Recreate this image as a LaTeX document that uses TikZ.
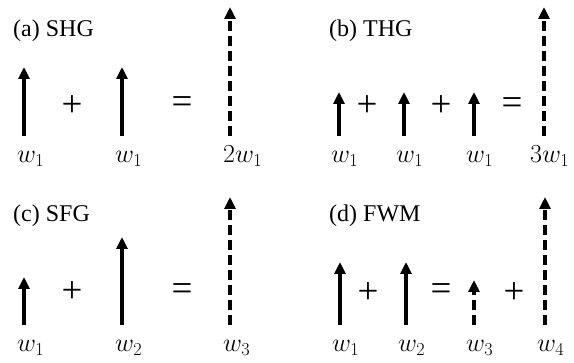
\RequirePackage{fix-cm}
\documentclass[tikz,border=0pt]{standalone}
\usepackage{fontspec}
\setmainfont{Liberation Serif}
\usetikzlibrary{arrows.meta}

\begin{document}
\begin{tikzpicture}[x=1pt, y=-1pt,
    % ---------- estilos ----------
    ttl/.style={font=\fontsize{24}{27}\selectfont, anchor=base west, inner sep=0pt},
    lbl/.style={font=\fontsize{26}{28}\selectfont, anchor=base west, inner sep=0pt},
    op/.style={font=\fontsize{37}{40}\selectfont, inner sep=0pt},
    vec/.style={-{Triangle[length=12pt, width=11pt]}, line width=3.2pt},
    dvec/.style={vec, dash pattern=on 10pt off 5pt}
]

\useasboundingbox (0,0) rectangle (574,363);

\def\rA{136}   % pie de flechas, fila 1
\def\rB{325}   % pie de flechas, fila 2
\def\bA{163}   % linea base etiquetas, fila 1
\def\bB{352}   % linea base etiquetas, fila 2

% ====== (a) SHG ======
\node[ttl] (ta) at (13,37) {(a) SHG};
\foreach \n/\x/\yt/\s/\t in {a1/24/67/vec/w_1, a2/122/67/vec/w_1, a3/230/7/dvec/2w_1} {
    \coordinate (\n-b) at (\x,\rA);
    \coordinate (\n-t) at (\x,\yt);
    \draw[\s] (\n-b) -- (\n-t);
    \node[lbl] (\n-l) at (\x-7,\bA) {$\t$};
}
\node[op] (ap1) at (72,106) {+};
\node[op] (ae) at (182,105) {=};

% ====== (b) THG ======
\node[ttl] (tb) at (329,37) {(b) THG};
\foreach \n/\x/\yt/\s/\t in {b1/339/92/vec/w_1, b2/404/92/vec/w_1, b3/474/92/vec/w_1} {
    \coordinate (\n-b) at (\x,\rA);
    \coordinate (\n-t) at (\x,\yt);
    \draw[\s] (\n-b) -- (\n-t);
    \node[lbl] (\n-l) at (\x-8,\bA) {$\t$};
}
\coordinate (b4-b) at (544,\rA);
\coordinate (b4-t) at (544,7);
\draw[dvec] (b4-b) -- (b4-t);
\node[lbl] (b4-l) at (530,\bA) {$3w_1$};
\node[op] (bp1) at (367,106) {+};
\node[op] (bp2) at (441,106) {+};
\node[op] (be) at (512,106) {=};

% ====== (c) SFG ======
\node[ttl] (tc) at (13,222) {(c) SFG};
\foreach \n/\x/\yt/\s/\t in {c1/24/277/vec/w_1, c2/122/237/vec/w_2, c3/230/197/dvec/w_3} {
    \coordinate (\n-b) at (\x,\rB);
    \coordinate (\n-t) at (\x,\yt);
    \draw[\s] (\n-b) -- (\n-t);
    \node[lbl] (\n-l) at (\x-7,\bB) {$\t$};
}
\node[op] (cp1) at (72,292) {+};
\node[op] (ce) at (182,292) {=};

% ====== (d) FWM ======
\node[ttl] (td) at (329,222) {(d) FWM};
\foreach \n/\x/\yt/\s/\t in {d1/340/262/vec/w_1, d2/406/262/vec/w_2, d3/474/280/dvec/w_3, d4/545/197/dvec/w_4} {
    \coordinate (\n-b) at (\x,\rB);
    \coordinate (\n-t) at (\x,\yt);
    \draw[\s] (\n-b) -- (\n-t);
    \node[lbl] (\n-l) at (\x-8,\bB) {$\t$};
}
\node[op] (dp1) at (368,293) {+};
\node[op] (de) at (441,292) {=};
\node[op] (dp2) at (514,293) {+};

\end{tikzpicture}
\end{document}
